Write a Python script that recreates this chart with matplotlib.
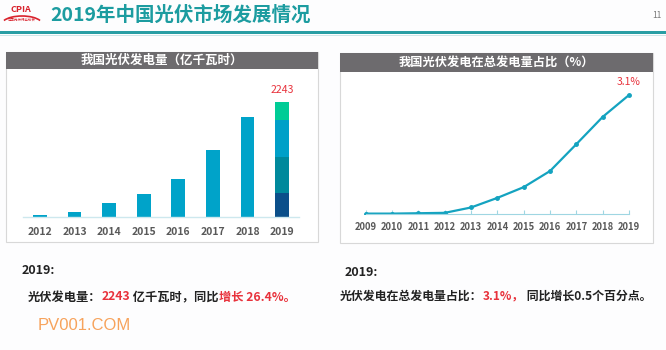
import matplotlib
matplotlib.use("Agg")
import matplotlib.pyplot as plt
from matplotlib.patches import Rectangle, Arc

plt.rcParams['font.family'] = ['Noto Sans CJK SC', 'DejaVu Sans']

# data
gen_years = ['2012', '2013', '2014', '2015', '2016', '2017', '2018', '2019']
gen_values = [45, 100, 280, 440, 735, 1300, 1960, 2243]
# 2019 bar is split into four coloured parts
gen_2019_parts = [477, 700, 706, 360]
gen_2019_colors = ['#0b4f8a', '#00899c', '#00a0c8', '#00cc96']

share_years = ['2009', '2010', '2011', '2012', '2013', '2014', '2015', '2016', '2017', '2018', '2019']
share_values = [0.01, 0.01, 0.02, 0.03, 0.17, 0.42, 0.70, 1.12, 1.82, 2.53, 3.1]

W, H = 666, 350
BAR = '#00a3c9'
GRAY_HDR = '#6d6b6e'
TICK = '#595959'
RED = '#e8323c'


def fx(p):
    return p / W


def fy(p):
    return 1 - p / H


fig = plt.figure(figsize=(6.66, 3.5), dpi=100)
fig.patch.set_facecolor('#fdfdfe')

# title strip
fig.text(fx(50), fy(15), '2019年中国光伏市场发展情况', fontsize=14, fontweight='bold',
         color='#1c9ca0', va='center', ha='left')
fig.add_artist(Rectangle((0, fy(33.5)), 1, 2.2 / H, transform=fig.transFigure,
                         color='#2a9ea4', lw=0))
fig.add_artist(Rectangle((0, fy(36)), 1, 1 / H, transform=fig.transFigure,
                         color='#cfe6e8', lw=0))
fig.text(fx(657), fy(15), '11', fontsize=6, color='#777777', ha='center', va='center')

# logo
fig.text(fx(21), fy(9), 'CPIA', fontsize=6.5, fontweight='bold', color='#d9232d',
         ha='center', va='center')
fig.add_artist(Arc((fx(22), fy(24)), fx(40), 16 / H, theta1=20, theta2=160,
                   transform=fig.transFigure, color='#d9232d', lw=1.2))
fig.text(fx(22), fy(20), '中国光伏行业协会', fontsize=2.5, color='#d9232d',
         ha='center', va='center')


def panel(x0, y0, x1, y1, hdr_h, title, size):
    fig.add_artist(Rectangle((fx(x0), fy(y1)), fx(x1 - x0), (y1 - y0) / H,
                             transform=fig.transFigure, facecolor='white',
                             edgecolor='#d8d8d8', lw=0.8, zorder=-2))
    fig.add_artist(Rectangle((fx(x0), fy(y0 + hdr_h)), fx(x1 - x0), hdr_h / H,
                             transform=fig.transFigure, facecolor=GRAY_HDR, lw=0,
                             zorder=-1))
    fig.text(fx((x0 + x1) / 2), fy(y0 + hdr_h / 2), title, color='white',
             fontsize=size, fontweight='bold', ha='center', va='center')


panel(6, 52, 318, 242, 17, '我国光伏发电量（亿千瓦时）', 9)
panel(340, 53, 653, 243, 19, '我国光伏发电在总发电量占比（%）', 8.8)

# left: bar chart
ax1 = fig.add_axes([fx(22.7), fy(217), fx(276.6), 137 / H])
ax1.set_zorder(2)
ax1.patch.set_alpha(0)
xs = range(len(gen_years))
ax1.bar(list(xs)[:-1], gen_values[:-1], width=0.4, color=BAR)
bottom = 0
for v, c in zip(gen_2019_parts, gen_2019_colors):
    ax1.bar(len(gen_years) - 1, v, width=0.4, bottom=bottom, color=c)
    bottom += v
ax1.text(len(gen_years) - 1, gen_values[-1] + 230, str(gen_values[-1]), color=RED,
         fontsize=7.5, ha='center', va='center')
ax1.set_xlim(-0.5, len(gen_years) - 0.5)
ax1.set_ylim(0, 2672)
ax1.set_xticks(list(xs))
ax1.set_xticklabels(gen_years, fontsize=7.5, fontweight='bold', color=TICK)
ax1.tick_params(axis='x', length=0, pad=7)
ax1.set_yticks([])
for s in ['top', 'right', 'left']:
    ax1.spines[s].set_visible(False)
ax1.spines['bottom'].set_color('#cde8ee')
ax1.spines['bottom'].set_linewidth(1)

# right: line chart
ax2 = fig.add_axes([fx(355.2), fy(214), fx(284.4), 134 / H])
ax2.set_zorder(2)
ax2.patch.set_alpha(0)
xs2 = list(range(len(share_years)))
ax2.plot(xs2, share_values, color='#14a3c0', lw=1.6, marker='o', ms=2.5,
         solid_capstyle='round')
ax2.text(xs2[-1], share_values[-1] + 0.34, '3.1%', color=RED, fontsize=7.5,
         ha='center', va='center')
ax2.set_xlim(-0.4, len(share_years) - 0.6)
ax2.set_ylim(0, 3.49)
ax2.set_xticks(xs2)
ax2.set_xticklabels(share_years, fontsize=6.8, fontweight='bold', color=TICK)
ax2.tick_params(axis='x', direction='in', length=3, color='#9fd6e2', pad=6)
ax2.set_yticks([])
for s in ['top', 'right', 'left']:
    ax2.spines[s].set_visible(False)
ax2.spines['bottom'].set_color('#9fd6e2')
ax2.spines['bottom'].set_bounds(0, len(share_years) - 1)

# bottom notes
fig.canvas.draw()
renderer = fig.canvas.get_renderer()


def colored_line(x, y, parts, size=9):
    xp = x
    for s, c in parts:
        t = fig.text(fx(xp), fy(y), s, color=c, fontsize=size, fontweight='bold',
                     ha='left', va='center')
        xp += t.get_window_extent(renderer=renderer).width


fig.text(fx(22), fy(270), '2019:', fontsize=9, fontweight='bold', color='#222222',
         va='center')
colored_line(28, 297, [('光伏发电量：', '#222222'), ('2243', RED),
                       (' 亿千瓦时，同比', '#222222'), ('增长 26.4%。', RED)], 8.8)
fig.text(fx(345), fy(273), '2019:', fontsize=9, fontweight='bold', color='#222222',
         va='center')
colored_line(340, 296, [('光伏发电在总发电量占比：', '#222222'), ('3.1%，', RED),
                        (' 同比增长0.5个百分点。', '#222222')], 8.6)
fig.text(fx(38), fy(325), 'PV001.COM', fontsize=12, color='#f7a35c',
         family='Liberation Sans', va='center', ha='left')

fig.savefig('out.png', dpi=100, facecolor=fig.get_facecolor())
